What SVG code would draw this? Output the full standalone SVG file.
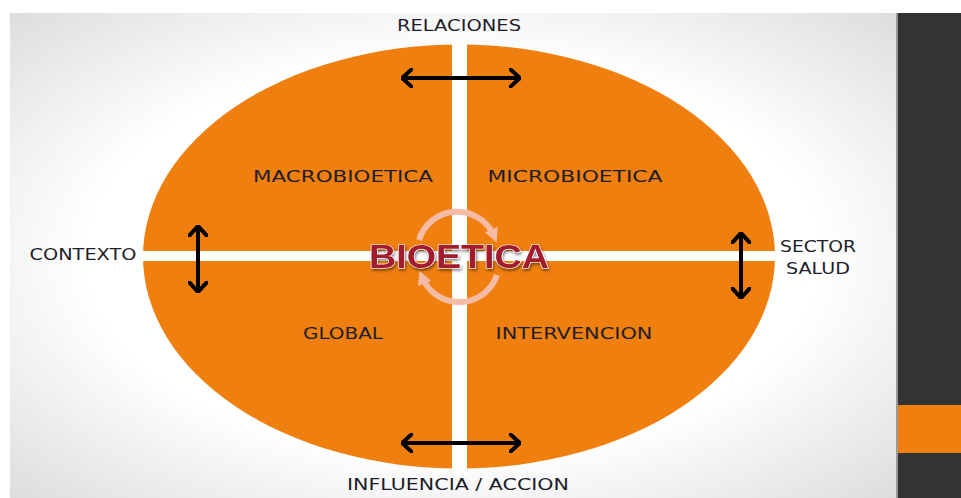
<svg xmlns="http://www.w3.org/2000/svg" width="961" height="498" viewBox="0 0 961 498">
<defs>
<radialGradient id="bg" cx="0.5" cy="0.5" r="0.75">
<stop offset="0.55" stop-color="#ffffff"/>
<stop offset="1" stop-color="#d8d8d8"/>
</radialGradient>
<marker id="ah" viewBox="0 0 12 20" refX="11" refY="10" markerWidth="12" markerHeight="20" markerUnits="userSpaceOnUse" orient="auto-start-reverse">
<polyline points="1,1 11,10 1,19" fill="none" stroke="#000" stroke-width="4" stroke-linecap="round" stroke-linejoin="round"/>
</marker>
<marker id="rh" viewBox="0 0 10 10" refX="5" refY="5" markerWidth="14" markerHeight="14" markerUnits="userSpaceOnUse" orient="auto">
<path d="M0,0 L10,5 L0,10 Z" fill="#f6bba5"/>
</marker>
<filter id="sh" x="-10%" y="-30%" width="120%" height="160%">
<feGaussianBlur in="SourceAlpha" stdDeviation="1.5"/>
<feOffset dx="1" dy="2" result="b"/>
<feFlood flood-color="#000" flood-opacity="0.5"/>
<feComposite in2="b" operator="in"/>
<feMerge><feMergeNode/><feMergeNode in="SourceGraphic"/></feMerge>
</filter>
</defs>
<style>
.lbl{font-family:"DejaVu Sans","Liberation Sans",Arial,sans-serif;font-size:15px;fill:#1e1e2a}
.q{fill:#ef7f0e}
.arr{stroke:#000;stroke-width:4;fill:none;marker-start:url(#ah);marker-end:url(#ah)}
</style>
<rect width="961" height="498" fill="#ffffff"/>
<rect x="10" y="13" width="887" height="485" fill="url(#bg)"/>
<rect x="896" y="13" width="2" height="485" fill="#9a9a9a"/>
<rect x="898" y="13" width="63" height="485" fill="#333333"/>
<rect x="898" y="405" width="63" height="48" fill="#ef7f0e"/>

<g id="ellipse">
<ellipse cx="459" cy="256.5" rx="316" ry="212" class="q"/>
<rect x="452" y="40" width="15" height="435" fill="#ffffff"/>
<rect x="140" y="251" width="640" height="10" fill="#ffffff"/>
</g>

<g id="connectors">
<line class="arr" x1="402" y1="78" x2="520" y2="78"/>
<line class="arr" x1="402" y1="443" x2="520" y2="443"/>
<line class="arr" x1="198" y1="226" x2="198" y2="292"/>
<line class="arr" x1="741" y1="233" x2="741" y2="298"/>
</g>

<g id="center">
<path d="M419,240 A40,40 0 0 1 494,236" fill="none" stroke="#f6bba5" stroke-width="6" marker-end="url(#rh)"/>
<path d="M497,275 A40,40 0 0 1 422,277" fill="none" stroke="#f6bba5" stroke-width="6" marker-end="url(#rh)"/>
<text x="459" y="268" text-anchor="middle" font-family="'Liberation Sans',Arial,sans-serif" font-size="33" font-weight="bold" fill="#a31c2e" stroke="#ffffff" stroke-width="1.2" paint-order="stroke" filter="url(#sh)" textLength="180" lengthAdjust="spacingAndGlyphs">BIOETICA</text>
</g>

<g id="relaciones"><text class="lbl" x="459" y="31" text-anchor="middle" textLength="124" lengthAdjust="spacingAndGlyphs" font-family="'Liberation Sans Narrow','Liberation Sans',sans-serif">RELACIONES</text></g>
<g id="macro"><text class="lbl" x="343" y="182" text-anchor="middle" textLength="180" lengthAdjust="spacingAndGlyphs">MACROBIOETICA</text></g>
<g id="micro"><text class="lbl" x="575" y="182" text-anchor="middle" textLength="175" lengthAdjust="spacingAndGlyphs">MICROBIOETICA</text></g>
<g id="global"><text class="lbl" x="343" y="339" text-anchor="middle" textLength="80" lengthAdjust="spacingAndGlyphs">GLOBAL</text></g>
<g id="intervencion"><text class="lbl" x="574" y="339" text-anchor="middle" textLength="157" lengthAdjust="spacingAndGlyphs">INTERVENCION</text></g>
<g id="contexto"><text class="lbl" x="83" y="260" text-anchor="middle" textLength="107" lengthAdjust="spacingAndGlyphs">CONTEXTO</text></g>
<g id="sector"><text class="lbl" x="818" y="252" text-anchor="middle" textLength="76" lengthAdjust="spacingAndGlyphs">SECTOR</text><text class="lbl" x="818" y="274" text-anchor="middle" textLength="64" lengthAdjust="spacingAndGlyphs">SALUD</text></g>
<g id="influencia"><text class="lbl" x="458" y="490" text-anchor="middle" textLength="222" lengthAdjust="spacingAndGlyphs">INFLUENCIA / ACCION</text></g>
</svg>
